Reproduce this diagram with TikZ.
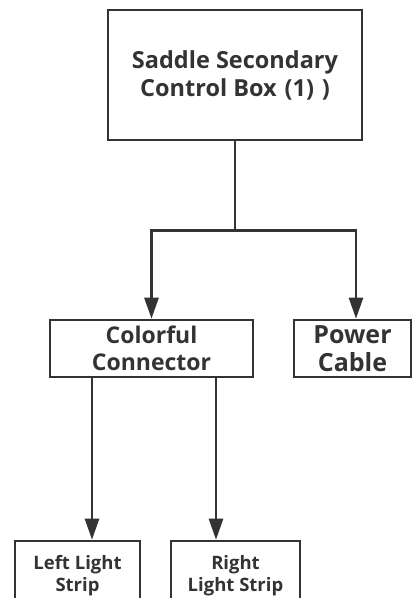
\documentclass[tikz,border=0pt]{standalone}
\usepackage{fontspec}
\setmainfont{Open Sans}
\usetikzlibrary{arrows.meta}

\begin{document}
\begin{tikzpicture}[
      x=1pt, y=-1pt,
      inner sep=0pt,
      line width=2.6pt,
      color={black!80},
      box/.style={draw, rectangle, align=center, font=\bfseries},
      link/.style={-{Triangle[length=21pt,width=14pt]}}
    ]
    \clip (0,0) rectangle (412,598);
    \fill[white] (0,0) rectangle (412,598);
    \node (root) [box, minimum width=254pt, minimum height=130pt,
      font=\bfseries\fontsize{23.5}{28}\selectfont] at (235,75)
      {Saddle Secondary\\Control Box\,\,(1)\,\,)};
    \node (0) [box, minimum width=203pt, minimum height=57pt,
      font=\bfseries\fontsize{23}{27}\selectfont] at (151.5,348.5)
      {Colorful\\Connector};
    \node (1) [box, minimum width=117pt, minimum height=57pt,
      font=\bfseries\fontsize{25}{28}\selectfont] at (352.5,348.5)
      {Power\\Cable};
    \node (00) [box, minimum width=125pt, minimum height=70pt,
      font=\bfseries\fontsize{18.5}{22}\selectfont] at (77.5,576)
      {Left Light\\Strip};
    \node (01) [box, minimum width=129pt, minimum height=70pt,
      font=\bfseries\fontsize{18.5}{22}\selectfont] at (235.5,576)
      {Right\\Light Strip};
    \draw[link] (root.south) -- ++(0,89) -| (0.north);
    \draw[link] (root.south) -- ++(0,89) -| ([xshift=3.5pt]1.north);
    \draw[link] ([xshift=-59.5pt]0.south) -- ([xshift=-59.5pt]0.south |- 00.north);
    \draw[link] ([xshift=64.5pt]0.south) -- ([xshift=64.5pt]0.south |- 01.north);
  \end{tikzpicture}
\end{document}
